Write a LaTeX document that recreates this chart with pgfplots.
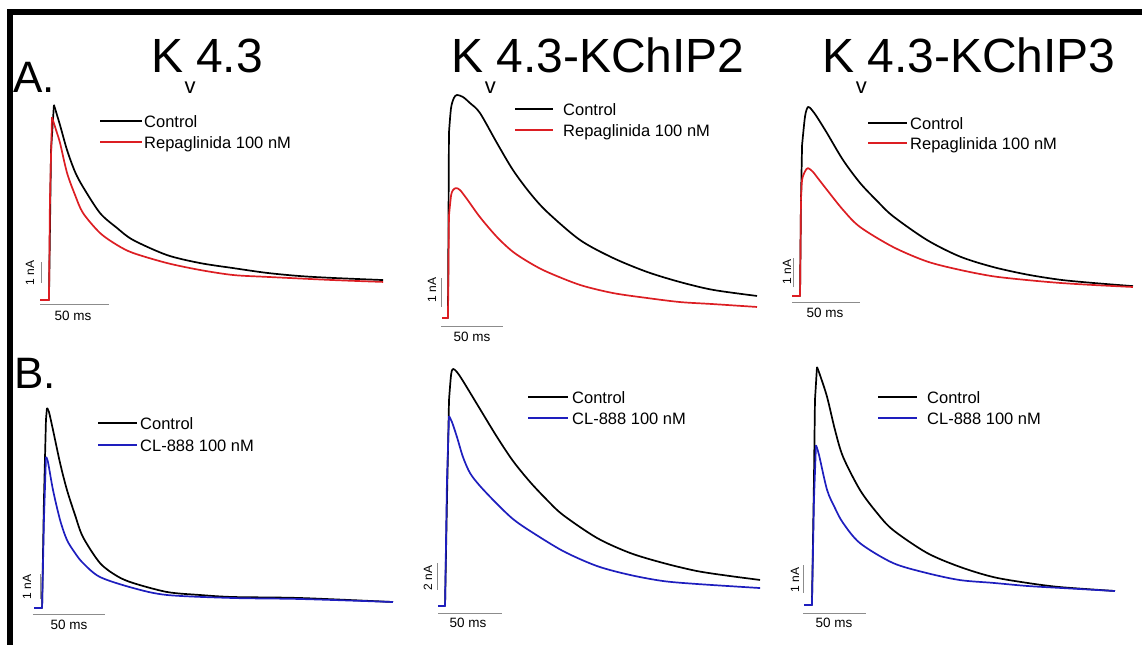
\documentclass[border=0pt]{standalone}
\usepackage{pgfplots}
\pgfplotsset{compat=1.18}
\usepackage{fontspec}
\setmainfont{Liberation Sans}
\definecolor{tred}{RGB}{220,30,35}
\definecolor{tblue}{RGB}{30,30,190}
\definecolor{sbar}{RGB}{140,140,140}
\newcommand{\legf}{\fontsize{16.5}{18}\selectfont}
\newcommand{\titf}{\fontsize{48}{50}\selectfont}
\newcommand{\subf}{\fontsize{22}{24}\selectfont}
\newcommand{\labf}{\fontsize{44}{46}\selectfont}
\newcommand{\barf}{\fontsize{13.5}{14}\selectfont}
\newcommand{\nabf}{\fontsize{12}{13}\selectfont}
\newcommand{\kv}{K\kern1pt\raisebox{-21pt}{\subf v}\kern0.5pt}
\pgfplotsset{
  panel/.style={axis lines=none, clip=false, xmin=-10, xmax=260, anchor=south west},
  trace/.style={line width=1.7pt, line join=round},
  sb/.style={sbar, line width=0.8pt, forget plot},
}
\begin{document}
\begin{tikzpicture}
% ---------- overlay in pixel coordinates: border, titles, legends, scale-bar labels
\begin{axis}[at={(0pt,0pt)}, anchor=south west, scale only axis, width=1142pt, height=645pt,
  xmin=0, xmax=1142, ymin=0, ymax=645, y dir=reverse, axis lines=none, clip=false]
\draw[black, line width=6pt] (axis cs:7,12) -- (axis cs:1142,12);
\draw[black, line width=6pt] (axis cs:10,9) -- (axis cs:10,645);
% panel letters
\node[anchor=base west, inner sep=0pt, font=\labf] at (axis cs:13,92) {A.};
\node[anchor=base west, inner sep=0pt, font=\labf] at (axis cs:14,388) {B.};
% titles
\node[anchor=base west, inner sep=0pt, font=\titf] at (axis cs:151.5,72) {\kv 4.3};
\node[anchor=base west, inner sep=0pt, font=\titf] at (axis cs:451.6,72) {\kv 4.3-KChIP2};
\node[anchor=base west, inner sep=0pt, font=\titf] at (axis cs:822.6,72) {\kv 4.3-KChIP3};
% legends
\addplot[black, line width=1.7pt] coordinates {(100,121)(142,121)};
\addplot[tred, line width=1.7pt] coordinates {(100,142)(142,142)};
\node[anchor=base west, inner sep=0pt, font=\legf] at (axis cs:144,127) {Control};
\node[anchor=base west, inner sep=0pt, font=\legf] at (axis cs:144,148) {Repaglinida 100 nM};
\addplot[black, line width=1.7pt] coordinates {(515,109)(553,109)};
\addplot[tred, line width=1.7pt] coordinates {(515,130)(553,130)};
\node[anchor=base west, inner sep=0pt, font=\legf] at (axis cs:563,115) {Control};
\node[anchor=base west, inner sep=0pt, font=\legf] at (axis cs:563,136) {Repaglinida 100 nM};
\addplot[black, line width=1.7pt] coordinates {(868,123)(907,123)};
\addplot[tred, line width=1.7pt] coordinates {(868,143)(907,143)};
\node[anchor=base west, inner sep=0pt, font=\legf] at (axis cs:910,129) {Control};
\node[anchor=base west, inner sep=0pt, font=\legf] at (axis cs:910,149) {Repaglinida 100 nM};
\addplot[black, line width=1.7pt] coordinates {(98,423)(137,423)};
\addplot[tblue, line width=1.7pt] coordinates {(98,445)(137,445)};
\node[anchor=base west, inner sep=0pt, font=\legf] at (axis cs:140,429) {Control};
\node[anchor=base west, inner sep=0pt, font=\legf] at (axis cs:140,451) {CL-888 100 nM};
\addplot[black, line width=1.7pt] coordinates {(528,397)(568,397)};
\addplot[tblue, line width=1.7pt] coordinates {(528,418)(568,418)};
\node[anchor=base west, inner sep=0pt, font=\legf] at (axis cs:572,403) {Control};
\node[anchor=base west, inner sep=0pt, font=\legf] at (axis cs:572,424) {CL-888 100 nM};
\addplot[black, line width=1.7pt] coordinates {(878,397)(917,397)};
\addplot[tblue, line width=1.7pt] coordinates {(878,418)(917,418)};
\node[anchor=base west, inner sep=0pt, font=\legf] at (axis cs:927,403) {Control};
\node[anchor=base west, inner sep=0pt, font=\legf] at (axis cs:927,424) {CL-888 100 nM};
% scale-bar labels
\node[rotate=90, inner sep=0pt, font=\nabf] at (axis cs:30,273) {1 nA};
\node[inner sep=0pt, font=\barf] at (axis cs:73,316) {50 ms};
\node[rotate=90, inner sep=0pt, font=\nabf] at (axis cs:432,290) {1 nA};
\node[inner sep=0pt, font=\barf] at (axis cs:472,337) {50 ms};
\node[rotate=90, inner sep=0pt, font=\nabf] at (axis cs:787,272) {1 nA};
\node[inner sep=0pt, font=\barf] at (axis cs:825,313) {50 ms};
\node[rotate=90, inner sep=0pt, font=\nabf] at (axis cs:27,587) {1 nA};
\node[inner sep=0pt, font=\barf] at (axis cs:69,625) {50 ms};
\node[rotate=90, inner sep=0pt, font=\nabf] at (axis cs:428,578) {2 nA};
\node[inner sep=0pt, font=\barf] at (axis cs:468,623) {50 ms};
\node[rotate=90, inner sep=0pt, font=\nabf] at (axis cs:795,580) {1 nA};
\node[inner sep=0pt, font=\barf] at (axis cs:834,623) {50 ms};
\end{axis}

% ---------- A1: Kv4.3, Repaglinida (t in ms, I in nA)
\begin{axis}[panel, x=1.38pt, y=21pt, ymin=-2, ymax=10, at={(26.2pt,303pt)}]
\addplot[sb] coordinates {(0.7,0.81)(0.7,1.81)};
\addplot[sb] coordinates {(0,-0.19)(50,-0.19)};
\addplot[trace, black] coordinates {(0,0)(6.5,0)(8.0,7.14)(10.1,9.29)};
\addplot[trace, black, smooth] coordinates {(10.1,9.29)(14.5,8.33)(19.6,7.14)(25.4,6.10)(31.2,5.38)(43.5,4.14)(55.8,3.43)(67.4,2.86)(92.0,2.14)(115.9,1.76)(139.9,1.52)(164.5,1.29)(188.4,1.14)(212.3,1.05)(248.6,0.95)};
\addplot[trace, tred] coordinates {(0,0)(6.5,0)(7.2,4.76)(8.7,8.71)};
\addplot[trace, tred, smooth] coordinates {(8.7,8.71)(11.6,8.1)(14.5,7.48)(19.6,6.05)(25.4,5.0)(31.2,4.14)(43.5,3.19)(55.8,2.62)(67.4,2.24)(92.0,1.76)(115.9,1.43)(139.9,1.19)(164.5,1.10)(212.3,0.95)(248.6,0.86)};
\end{axis}

% ---------- A2: Kv4.3-KChIP2, Repaglinida
\begin{axis}[panel, x=1.22pt, y=29pt, ymin=-2, ymax=9, at={(429.8pt,269pt)}]
\addplot[sb] coordinates {(-0.8,0.38)(-0.8,1.38)};
\addplot[sb] coordinates {(-0.8,-0.28)(50,-0.28)};
\addplot[trace, black] coordinates {(0,0)(4.9,0)(5.7,6.38)};
\addplot[trace, black, smooth] coordinates {(5.7,6.38)(7.4,7.24)(9.8,7.59)(12.3,7.69)(17.2,7.62)(23.0,7.41)(31.1,7.07)(45.1,6.03)(58.2,5.10)(72.1,4.31)(86.1,3.66)(113.1,2.69)(140.2,2.07)(168.0,1.59)(195.1,1.24)(222.1,0.97)(258.2,0.76)};
\addplot[trace, tred] coordinates {(0,0)(4.9,0)(5.7,3.52)};
\addplot[trace, tred, smooth] coordinates {(5.7,3.52)(7.4,4.21)(9.0,4.41)(11.5,4.48)(14.8,4.41)(20.5,4.10)(31.1,3.48)(45.1,2.79)(58.2,2.28)(72.1,1.90)(86.1,1.59)(113.1,1.14)(140.2,0.86)(168.0,0.69)(195.1,0.55)(222.1,0.48)(258.2,0.38)};
\end{axis}

% ---------- A3: Kv4.3-KChIP3, Repaglinida
\begin{axis}[panel, x=1.36pt, y=29pt, ymin=-2, ymax=7, at={(778.4pt,291pt)}]
\addplot[sb] coordinates {(0.7,0.31)(0.7,1.31)};
\addplot[sb] coordinates {(0,-0.21)(50,-0.21)};
\addplot[trace, black] coordinates {(0,0)(5.9,0)(6.6,3.3)(7.4,5.2)};
\addplot[trace, black, smooth] coordinates {(7.4,5.2)(9.6,6.2)(11.8,6.52)(14.7,6.41)(18.4,6.17)(25.7,5.62)(37.5,4.69)(50.0,3.90)(62.5,3.28)(74.3,2.75)(99.3,1.93)(123.5,1.36)(147.8,1.0)(172.8,0.74)(197.1,0.56)(221.3,0.45)(250.7,0.34)};
\addplot[trace, tred] coordinates {(0,0)(5.9,0)(6.6,3.3)};
\addplot[trace, tred, smooth] coordinates {(6.6,3.3)(7.4,4.0)(9.6,4.3)(11.8,4.41)(15.4,4.28)(18.4,4.10)(25.7,3.66)(37.5,2.97)(50.0,2.38)(74.3,1.69)(99.3,1.19)(123.5,0.90)(147.8,0.68)(172.8,0.55)(197.1,0.45)(221.3,0.38)(250.7,0.31)};
\end{axis}

% ---------- B1: Kv4.3, CL-888
\begin{axis}[panel, x=1.44pt, y=25pt, ymin=-1, ymax=9, at={(19.6pt,12pt)}]
\addplot[sb] coordinates {(4.2,0.36)(4.2,1.36)};
\addplot[sb] coordinates {(-0.7,-0.24)(49.3,-0.24)};
\addplot[trace, black] coordinates {(0,0)(5.6,0)(6.9,4.32)(8.3,7.52)(9.0,8.0)};
\addplot[trace, black, smooth] coordinates {(9.0,8.0)(10.4,7.84)(13.2,7.12)(18.1,5.8)(22.9,4.72)(28.5,3.72)(34.0,2.84)(45.8,1.8)(57.6,1.28)(68.8,1.0)(92.4,0.64)(115.3,0.52)(138.2,0.44)(184.7,0.40)(249.3,0.24)};
\addplot[trace, tblue] coordinates {(0,0)(5.6,0)(6.9,3.52)(8.3,6.04)};
\addplot[trace, tblue, smooth] coordinates {(8.3,6.04)(9.7,5.84)(13.2,4.72)(18.1,3.52)(22.9,2.72)(28.5,2.2)(34.0,1.8)(45.8,1.24)(68.8,0.8)(92.4,0.52)(138.2,0.40)(184.7,0.36)(249.3,0.24)};
\end{axis}

% ---------- B2: Kv4.3-KChIP2, CL-888
\begin{axis}[panel, x=1.28pt, y=13.5pt, ymin=-2, ymax=19, at={(425.2pt,12pt)}]
\addplot[sb] coordinates {(-0.8,1.19)(-0.8,3.19)};
\addplot[sb] coordinates {(0,-0.52)(50,-0.52)};
\addplot[trace, black] coordinates {(0,0)(5.5,0)(7.0,7.85)(8.6,15.26)};
\addplot[trace, black, smooth] coordinates {(8.6,15.26)(10.2,17.11)(11.7,17.56)(14.8,17.33)(19.5,16.67)(32.8,14.59)(46.1,12.52)(58.6,10.74)(71.9,9.19)(85.2,7.85)(97.7,6.74)(124.2,5.04)(150.0,3.93)(175.8,3.19)(202.3,2.59)(228.1,2.22)(251.6,1.93)};
\addplot[trace, tblue] coordinates {(0,0)(5.5,0)(7.0,9.33)(8.6,14.07)};
\addplot[trace, tblue, smooth] coordinates {(8.6,14.07)(10.9,13.63)(14.8,12.52)(19.5,11.04)(25.0,9.85)(32.8,8.89)(46.1,7.56)(58.6,6.44)(71.9,5.56)(97.7,4.07)(124.2,2.96)(150.0,2.30)(175.8,1.85)(202.3,1.63)(251.6,1.33)};
\end{axis}

% ---------- B3: Kv4.3-KChIP3, CL-888
\begin{axis}[panel, x=1.26pt, y=28pt, ymin=-1, ymax=9, at={(791.4pt,12pt)}]
\addplot[sb] coordinates {(-0.8,0.43)(-0.8,1.43)};
\addplot[sb] coordinates {(-0.8,-0.29)(49.2,-0.29)};
\addplot[trace, black] coordinates {(0,0)(6.3,0)(7.9,4.46)(8.7,7.32)(10.3,8.5)};
\addplot[trace, black, smooth] coordinates {(10.3,8.5)(12.7,8.21)(18.3,7.43)(24.6,6.25)(31.0,5.29)(44.4,4.11)(57.9,3.29)(70.6,2.68)(97.6,1.86)(123.8,1.36)(150.0,1.0)(177.0,0.79)(203.2,0.64)(246.8,0.5)};
\addplot[trace, tblue] coordinates {(0,0)(6.3,0)(7.9,3.75)(9.5,5.71)};
\addplot[trace, tblue, smooth] coordinates {(9.5,5.71)(11.9,5.36)(18.3,4.11)(24.6,3.46)(31.0,2.93)(44.4,2.21)(70.6,1.5)(97.6,1.14)(123.8,0.89)(150.0,0.79)(177.0,0.68)(203.2,0.61)(246.8,0.5)};
\end{axis}
\pgfresetboundingbox
\useasboundingbox (0pt,0pt) rectangle (1142pt,645pt);
\end{tikzpicture}
\end{document}
